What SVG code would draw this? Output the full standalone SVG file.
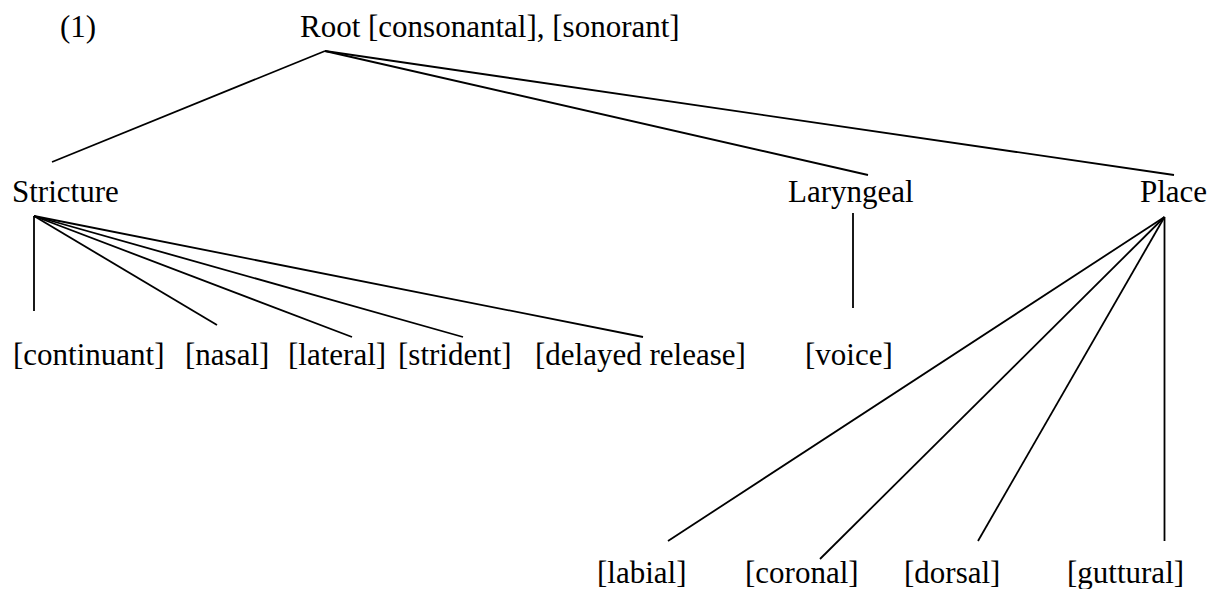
<svg xmlns="http://www.w3.org/2000/svg" width="1211" height="589" viewBox="0 0 1211 589">
<style>
text{font-family:"Liberation Serif","Times New Roman",serif;font-size:31px;fill:#000}
.e line{stroke:#000;stroke-width:1.8;stroke-linecap:butt}
</style>
<rect width="1211" height="589" fill="#fff"/>
<g id="label-1"><text x="60" y="37">(1)</text></g>
<g id="root"><text x="300" y="37">Root [consonantal], [sonorant]</text></g>
<g id="stricture"><text x="12" y="202">Stricture</text></g>
<g id="laryngeal"><text x="788" y="202">Laryngeal</text></g>
<g id="place"><text x="1140" y="202">Place</text></g>
<g id="continuant"><text x="13" y="365">[continuant]</text></g>
<g id="nasal"><text x="185" y="365">[nasal]</text></g>
<g id="lateral"><text x="288" y="365">[lateral]</text></g>
<g id="strident"><text x="398" y="365">[strident]</text></g>
<g id="delayed-release"><text x="535" y="365">[delayed release]</text></g>
<g id="voice"><text x="805" y="365">[voice]</text></g>
<g id="labial"><text x="597" y="583">[labial]</text></g>
<g id="coronal"><text x="745" y="583">[coronal]</text></g>
<g id="dorsal"><text x="904" y="583">[dorsal]</text></g>
<g id="guttural"><text x="1067" y="583">[guttural]</text></g>
<g id="connectors" class="e">
<line x1="325" y1="51" x2="52" y2="162"/>
<line x1="325" y1="51" x2="868" y2="175"/>
<line x1="325" y1="51" x2="1174" y2="175"/>
<line x1="34" y1="216" x2="34" y2="311"/>
<line x1="34" y1="216" x2="217" y2="325"/>
<line x1="34" y1="216" x2="352" y2="337"/>
<line x1="34" y1="216" x2="463" y2="337"/>
<line x1="34" y1="216" x2="643" y2="337"/>
<line x1="853" y1="213" x2="853" y2="308"/>
<line x1="1164.5" y1="217" x2="668" y2="541"/>
<line x1="1164.5" y1="217" x2="820" y2="559"/>
<line x1="1164.5" y1="217" x2="978" y2="541"/>
<line x1="1164.5" y1="217" x2="1164.5" y2="541"/>
</g>
</svg>
